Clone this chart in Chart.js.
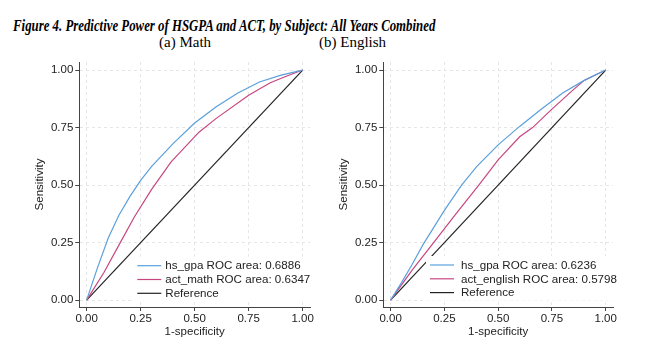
<!DOCTYPE html>
<html>
<head>
<meta charset="utf-8">
<script src="https://cdn.jsdelivr.net/npm/chart.js@4/dist/chart.umd.min.js"></script>
<style>
  body { margin: 0; background: #fff; }
  #wrap { position: relative; width: 649px; height: 351px; overflow: hidden; background: #fff; }
  .ttl { position: absolute; white-space: nowrap; font-family: "Liberation Serif", serif; color: #000; line-height: 1; }
  #mainTitle { left: 13px; top: 17px; font-size: 17px; font-weight: bold; font-style: italic; transform-origin: 0 0; }
  .sub { top: 35px; font-size: 15px; }
  .box { position: absolute; }
</style>
</head>
<body>
<div id="wrap">
  <div id="mainTitle" class="ttl">Figure 4. Predictive Power of HSGPA and ACT, by Subject: All Years Combined</div>
  <div id="subMath" class="ttl sub" style="left:159px">(a) Math</div>
  <div id="subEng" class="ttl sub" style="left:319px">(b) English</div>
  <div class="box" style="left:0px; top:52px; width:320px; height:299px;"><canvas id="chartMath"></canvas></div>
  <div class="box" style="left:304px; top:52px; width:319px; height:299px;"><canvas id="chartEng"></canvas></div>
</div>
<script>
// ticks shared by both panels
const tickVals = [0, 0.25, 0.5, 0.75, 1];

// (a) Math
const mathGpaX = [0, 0.05, 0.1, 0.15, 0.2, 0.25, 0.3, 0.4, 0.5, 0.6, 0.7, 0.8, 0.9, 1];
const mathGpaY = [0, 0.14, 0.27, 0.37, 0.45, 0.52, 0.58, 0.68, 0.77, 0.84, 0.9, 0.948, 0.978, 1];
const mathActX = [0, 0.08, 0.15, 0.22, 0.3, 0.39, 0.52, 0.6, 0.75, 0.85, 0.93, 1];
const mathActY = [0, 0.12, 0.24, 0.36, 0.48, 0.6, 0.73, 0.79, 0.89, 0.945, 0.975, 1];
const mathLabels = ['hs_gpa ROC area: 0.6886', 'act_math ROC area: 0.6347', 'Reference'];

// (b) English
const engGpaX = [0, 0.05, 0.1, 0.15, 0.25, 0.33, 0.4, 0.5, 0.6, 0.7, 0.8, 0.9, 1];
const engGpaY = [0, 0.075, 0.155, 0.24, 0.39, 0.5, 0.58, 0.675, 0.755, 0.83, 0.9, 0.955, 1];
const engActX = [0, 0.05, 0.1, 0.2, 0.3, 0.41, 0.5, 0.6, 0.66, 0.75, 0.85, 0.9, 1];
const engActY = [0, 0.065, 0.13, 0.25, 0.37, 0.5, 0.61, 0.71, 0.75, 0.83, 0.915, 0.955, 1];
const engLabels = ['hs_gpa ROC area: 0.6236', 'act_english ROC area: 0.5798', 'Reference'];

const refX = [0, 1];
const refY = [0, 1];

const colBlue = '#5aa0dc';
const colPink = '#c8467f';
const colRef = '#222222';
const font = 'Liberation Sans, Arial, sans-serif';

// squeeze the serif title like the scanned page
const mt = document.getElementById('mainTitle');
mt.style.transform = 'scaleX(' + (422 / mt.offsetWidth) + ')';

function pts(xs, ys) {
    return xs.map((x, i) => ({ x: x, y: ys[i] }));
}

// legend drawn inside plot, white box over the lines
const insideLegend = {
    id: 'insideLegend',
    afterDatasetsDraw(chart, args, opts) {
        const ctx = chart.ctx;
        const ca = chart.chartArea;
        const x0 = ca.left + opts.offsetX;
        const y0 = opts.rowTop;
        const rowH = 13.8;
        ctx.save();
        ctx.font = '11.6px ' + font;
        let maxW = 0;
        chart.data.datasets.forEach(ds => { maxW = Math.max(maxW, ctx.measureText(ds.label).width); });
        ctx.fillStyle = '#fff';
        ctx.fillRect(x0 - 4, y0 - 9, 24 + 5 + maxW + 8, rowH * 2 + 17);
        chart.data.datasets.forEach((ds, i) => {
            const y = y0 + i * rowH;
            ctx.strokeStyle = ds.borderColor;
            ctx.lineWidth = 1.2;
            ctx.beginPath();
            ctx.moveTo(x0, y);
            ctx.lineTo(x0 + 24, y);
            ctx.stroke();
            ctx.fillStyle = '#222';
            ctx.textBaseline = 'middle';
            ctx.textAlign = 'left';
            ctx.fillText(ds.label, x0 + opts.gap, y + 0.5);
        });
        ctx.restore();
    }
};

function makeChart(id, gx, gy, ax, ay, labels, legOffset, legTop, gap) {
    const ctx = document.getElementById(id).getContext('2d');
    return new Chart(ctx, {
        type: 'scatter',
        data: {
            datasets: [
                { label: labels[0], data: pts(gx, gy), borderColor: colBlue },
                { label: labels[1], data: pts(ax, ay), borderColor: colPink },
                { label: labels[2], data: pts(refX, refY), borderColor: colRef }
            ].map(d => Object.assign(d, { showLine: true, pointRadius: 0, borderWidth: 1.2, tension: 0, fill: false }))
        },
        options: {
            responsive: true,
            maintainAspectRatio: false,
            animation: false,
            events: [],
            layout: { padding: { top: 10, right: 10, bottom: 0, left: 0 } },
            plugins: {
                legend: { display: false },
                tooltip: { enabled: false },
                insideLegend: { offsetX: legOffset, rowTop: legTop, gap: gap }
            },
            scales: {
                x: {
                    type: 'linear',
                    min: -0.034, max: 1.034,
                    afterBuildTicks: s => { s.ticks = tickVals.map(v => ({ value: v })); },
                    afterFit: s => { s.height = 44; },
                    ticks: { color: '#222', font: { family: font, size: 11.5 }, padding: 1, callback: v => v.toFixed(2) },
                    grid: { color: '#e6e6e6', tickColor: '#444', tickLength: 4, tickBorderDash: [] },
                    border: { color: '#444', width: 1, dash: [3, 3] },
                    title: { display: true, text: '1-specificity', color: '#222', font: { family: font, size: 11.5 }, padding: { top: 2, bottom: 12 } }
                },
                y: {
                    type: 'linear',
                    min: -0.03, max: 1.035,
                    afterBuildTicks: s => { s.ticks = tickVals.map(v => ({ value: v })); },
                    afterFit: s => { s.width = 79.3; },
                    ticks: { color: '#222', font: { family: font, size: 11.5 }, padding: 2, callback: v => v.toFixed(2) },
                    grid: { color: '#e6e6e6', tickColor: '#444', tickLength: 4, tickBorderDash: [] },
                    border: { color: '#444', width: 1, dash: [3, 3] },
                    title: { display: true, text: 'Sensitivity', color: '#222', font: { family: font, size: 11.5 }, padding: { top: 33, bottom: 0 } }
                }
            }
        },
        plugins: [insideLegend]
    });
}

makeChart('chartMath', mathGpaX, mathGpaY, mathActX, mathActY, mathLabels, 58, 213.7, 28);
makeChart('chartEng', engGpaX, engGpaY, engActX, engActY, engLabels, 46.7, 213, 31);
</script>
</body>
</html>
